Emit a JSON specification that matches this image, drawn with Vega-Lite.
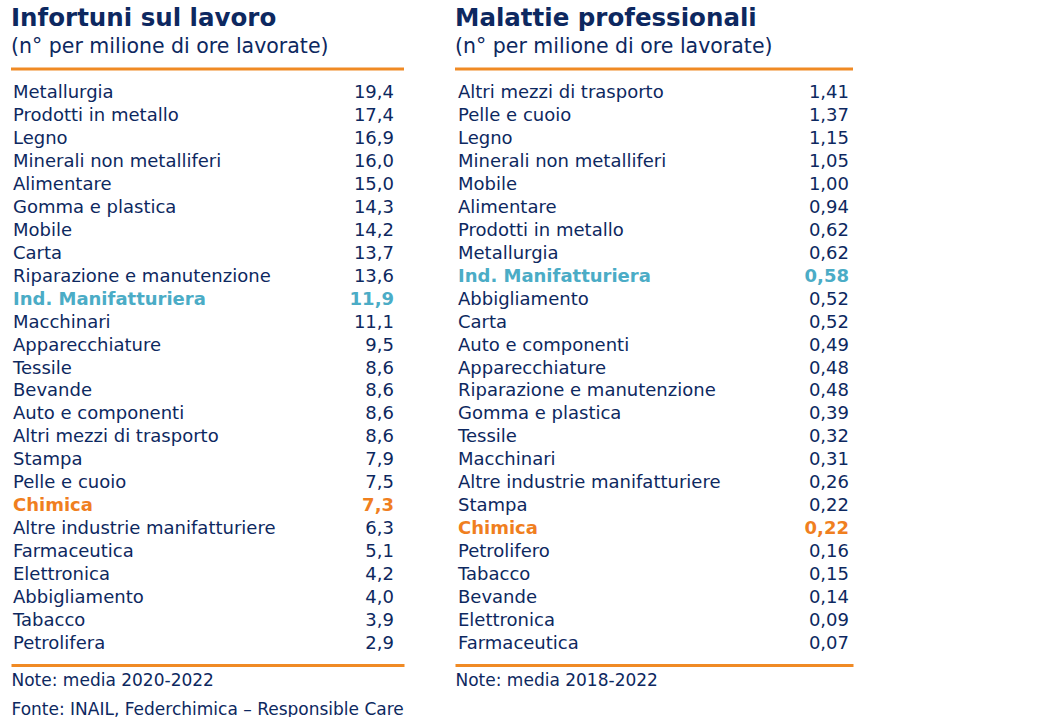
{
  "$schema": "https://vega.github.io/schema/vega-lite/v6.json",
  "background": "white",
  "padding": {"left": 9, "top": 5, "right": 0, "bottom": 0},
  "bounds": "flush",
  "spacing": 51,
  "config": {
    "font": "DejaVu Sans",
    "view": {"stroke": null},
    "locale": {"number": {"decimal": ",", "thousands": ".", "grouping": [3], "currency": ["", " €"]}},
    "title": {"anchor": "start", "frame": "group", "font": "DejaVu Sans", "fontSize": 24.5, "fontWeight": "bold", "color": "#0D2860", "subtitleFont": "DejaVu Sans", "subtitleFontSize": 20.5, "subtitleColor": "#0D2860", "subtitlePadding": 6, "offset": 9},
    "text": {"font": "DejaVu Sans", "fontSize": 18}
  },
  "datasets": {
    "infortuni": [
      {"rank": 1, "settore": "Metallurgia", "valore": 19.4, "tipo": "settore"},
      {"rank": 2, "settore": "Prodotti in metallo", "valore": 17.4, "tipo": "settore"},
      {"rank": 3, "settore": "Legno", "valore": 16.9, "tipo": "settore"},
      {"rank": 4, "settore": "Minerali non metalliferi", "valore": 16.0, "tipo": "settore"},
      {"rank": 5, "settore": "Alimentare", "valore": 15.0, "tipo": "settore"},
      {"rank": 6, "settore": "Gomma e plastica", "valore": 14.3, "tipo": "settore"},
      {"rank": 7, "settore": "Mobile", "valore": 14.2, "tipo": "settore"},
      {"rank": 8, "settore": "Carta", "valore": 13.7, "tipo": "settore"},
      {"rank": 9, "settore": "Riparazione e manutenzione", "valore": 13.6, "tipo": "settore"},
      {"rank": 10, "settore": "Ind. Manifatturiera", "valore": 11.9, "tipo": "totale"},
      {"rank": 11, "settore": "Macchinari", "valore": 11.1, "tipo": "settore"},
      {"rank": 12, "settore": "Apparecchiature", "valore": 9.5, "tipo": "settore"},
      {"rank": 13, "settore": "Tessile", "valore": 8.6, "tipo": "settore"},
      {"rank": 14, "settore": "Bevande", "valore": 8.6, "tipo": "settore"},
      {"rank": 15, "settore": "Auto e componenti", "valore": 8.6, "tipo": "settore"},
      {"rank": 16, "settore": "Altri mezzi di trasporto", "valore": 8.6, "tipo": "settore"},
      {"rank": 17, "settore": "Stampa", "valore": 7.9, "tipo": "settore"},
      {"rank": 18, "settore": "Pelle e cuoio", "valore": 7.5, "tipo": "settore"},
      {"rank": 19, "settore": "Chimica", "valore": 7.3, "tipo": "chimica"},
      {"rank": 20, "settore": "Altre industrie manifatturiere", "valore": 6.3, "tipo": "settore"},
      {"rank": 21, "settore": "Farmaceutica", "valore": 5.1, "tipo": "settore"},
      {"rank": 22, "settore": "Elettronica", "valore": 4.2, "tipo": "settore"},
      {"rank": 23, "settore": "Abbigliamento", "valore": 4.0, "tipo": "settore"},
      {"rank": 24, "settore": "Tabacco", "valore": 3.9, "tipo": "settore"},
      {"rank": 25, "settore": "Petrolifera", "valore": 2.9, "tipo": "settore"}
    ],
    "malattie": [
      {"rank": 1, "settore": "Altri mezzi di trasporto", "valore": 1.41, "tipo": "settore"},
      {"rank": 2, "settore": "Pelle e cuoio", "valore": 1.37, "tipo": "settore"},
      {"rank": 3, "settore": "Legno", "valore": 1.15, "tipo": "settore"},
      {"rank": 4, "settore": "Minerali non metalliferi", "valore": 1.05, "tipo": "settore"},
      {"rank": 5, "settore": "Mobile", "valore": 1.00, "tipo": "settore"},
      {"rank": 6, "settore": "Alimentare", "valore": 0.94, "tipo": "settore"},
      {"rank": 7, "settore": "Prodotti in metallo", "valore": 0.62, "tipo": "settore"},
      {"rank": 8, "settore": "Metallurgia", "valore": 0.62, "tipo": "settore"},
      {"rank": 9, "settore": "Ind. Manifatturiera", "valore": 0.58, "tipo": "totale"},
      {"rank": 10, "settore": "Abbigliamento", "valore": 0.52, "tipo": "settore"},
      {"rank": 11, "settore": "Carta", "valore": 0.52, "tipo": "settore"},
      {"rank": 12, "settore": "Auto e componenti", "valore": 0.49, "tipo": "settore"},
      {"rank": 13, "settore": "Apparecchiature", "valore": 0.48, "tipo": "settore"},
      {"rank": 14, "settore": "Riparazione e manutenzione", "valore": 0.48, "tipo": "settore"},
      {"rank": 15, "settore": "Gomma e plastica", "valore": 0.39, "tipo": "settore"},
      {"rank": 16, "settore": "Tessile", "valore": 0.32, "tipo": "settore"},
      {"rank": 17, "settore": "Macchinari", "valore": 0.31, "tipo": "settore"},
      {"rank": 18, "settore": "Altre industrie manifatturiere", "valore": 0.26, "tipo": "settore"},
      {"rank": 19, "settore": "Stampa", "valore": 0.22, "tipo": "settore"},
      {"rank": 20, "settore": "Chimica", "valore": 0.22, "tipo": "chimica"},
      {"rank": 21, "settore": "Petrolifero", "valore": 0.16, "tipo": "settore"},
      {"rank": 22, "settore": "Tabacco", "valore": 0.15, "tipo": "settore"},
      {"rank": 23, "settore": "Bevande", "valore": 0.14, "tipo": "settore"},
      {"rank": 24, "settore": "Elettronica", "valore": 0.09, "tipo": "settore"},
      {"rank": 25, "settore": "Farmaceutica", "valore": 0.07, "tipo": "settore"}
    ]
  },
  "hconcat": [
    {
      "title": {"text": "Infortuni sul lavoro", "subtitle": "(n° per milione di ore lavorate)"},
      "width": 393,
      "height": 596,
      "layer": [
        {
          "data": {"values": [{"linea": "top"}]},
          "mark": {"type": "rule", "color": "#F08A24", "strokeWidth": 3},
          "encoding": {
            "y": {"datum": 0, "type": "quantitative", "scale": {"domain": [0, 26], "reverse": true, "nice": false, "zero": false}, "axis": null}
          }
        },
        {
          "data": {"name": "infortuni"},
          "transform": [{"filter": "datum.tipo === 'settore'"}],
          "mark": {"type": "text", "align": "left", "baseline": "middle", "dx": 2, "dy": 1.5},
          "encoding": {
            "x": {"datum": 0, "type": "quantitative", "scale": {"domain": [0, 1], "nice": false},
              "axis": {"orient": "bottom", "domainColor": "#F08A24", "domainWidth": 3, "ticks": false, "labels": false, "grid": false,
                "title": ["Note: media 2020-2022", "Fonte: INAIL, Federchimica – Responsible Care"],
                "titleAnchor": "start", "titleAlign": "left", "titleBaseline": "top", "titlePadding": 7, "titleFont": "DejaVu Sans", "titleFontSize": 17, "titleFontWeight": "normal", "titleColor": "#0D2860", "titleLineHeight": 29}},
            "y": {"field": "rank", "type": "quantitative"},
            "text": {"field": "settore", "type": "nominal"},
            "color": {"field": "tipo", "type": "nominal", "scale": {"domain": ["settore", "totale", "chimica"], "range": ["#0D2860", "#4BACC6", "#F07F1F"]}, "legend": null}
          }
        },
        {
          "data": {"name": "infortuni"},
          "transform": [{"filter": "datum.tipo !== 'settore'"}],
          "mark": {"type": "text", "align": "left", "baseline": "middle", "dx": 2, "dy": 1.5, "fontWeight": "bold"},
          "encoding": {
            "x": {"datum": 0, "type": "quantitative"},
            "y": {"field": "rank", "type": "quantitative"},
            "text": {"field": "settore", "type": "nominal"},
            "color": {"field": "tipo", "type": "nominal", "legend": null}
          }
        },
        {
          "data": {"name": "infortuni"},
          "transform": [{"filter": "datum.tipo === 'settore'"}],
          "mark": {"type": "text", "align": "right", "baseline": "middle", "dx": -10, "dy": 1.5},
          "encoding": {
            "x": {"datum": 1, "type": "quantitative"},
            "y": {"field": "rank", "type": "quantitative"},
            "text": {"field": "valore", "type": "quantitative", "format": ".1f"},
            "color": {"field": "tipo", "type": "nominal", "legend": null}
          }
        },
        {
          "data": {"name": "infortuni"},
          "transform": [{"filter": "datum.tipo !== 'settore'"}],
          "mark": {"type": "text", "align": "right", "baseline": "middle", "dx": -10, "dy": 1.5, "fontWeight": "bold"},
          "encoding": {
            "x": {"datum": 1, "type": "quantitative"},
            "y": {"field": "rank", "type": "quantitative"},
            "text": {"field": "valore", "type": "quantitative", "format": ".1f"},
            "color": {"field": "tipo", "type": "nominal", "legend": null}
          }
        }
      ]
    },
    {
      "title": {"text": "Malattie professionali", "subtitle": "(n° per milione di ore lavorate)"},
      "width": 398,
      "height": 596,
      "layer": [
        {
          "data": {"values": [{"linea": "top"}]},
          "mark": {"type": "rule", "color": "#F08A24", "strokeWidth": 3},
          "encoding": {
            "y": {"datum": 0, "type": "quantitative", "scale": {"domain": [0, 26], "reverse": true, "nice": false, "zero": false}, "axis": null}
          }
        },
        {
          "data": {"name": "malattie"},
          "transform": [{"filter": "datum.tipo === 'settore'"}],
          "mark": {"type": "text", "align": "left", "baseline": "middle", "dx": 3, "dy": 1.5},
          "encoding": {
            "x": {"datum": 0, "type": "quantitative", "scale": {"domain": [0, 1], "nice": false},
              "axis": {"orient": "bottom", "domainColor": "#F08A24", "domainWidth": 3, "ticks": false, "labels": false, "grid": false,
                "title": "Note: media 2018-2022",
                "titleAnchor": "start", "titleAlign": "left", "titleBaseline": "top", "titlePadding": 7, "titleFont": "DejaVu Sans", "titleFontSize": 17, "titleFontWeight": "normal", "titleColor": "#0D2860", "titleLineHeight": 29}},
            "y": {"field": "rank", "type": "quantitative"},
            "text": {"field": "settore", "type": "nominal"},
            "color": {"field": "tipo", "type": "nominal", "scale": {"domain": ["settore", "totale", "chimica"], "range": ["#0D2860", "#4BACC6", "#F07F1F"]}, "legend": null}
          }
        },
        {
          "data": {"name": "malattie"},
          "transform": [{"filter": "datum.tipo !== 'settore'"}],
          "mark": {"type": "text", "align": "left", "baseline": "middle", "dx": 3, "dy": 1.5, "fontWeight": "bold"},
          "encoding": {
            "x": {"datum": 0, "type": "quantitative"},
            "y": {"field": "rank", "type": "quantitative"},
            "text": {"field": "settore", "type": "nominal"},
            "color": {"field": "tipo", "type": "nominal", "legend": null}
          }
        },
        {
          "data": {"name": "malattie"},
          "transform": [{"filter": "datum.tipo === 'settore'"}],
          "mark": {"type": "text", "align": "right", "baseline": "middle", "dx": -4, "dy": 1.5},
          "encoding": {
            "x": {"datum": 1, "type": "quantitative"},
            "y": {"field": "rank", "type": "quantitative"},
            "text": {"field": "valore", "type": "quantitative", "format": ".2f"},
            "color": {"field": "tipo", "type": "nominal", "legend": null}
          }
        },
        {
          "data": {"name": "malattie"},
          "transform": [{"filter": "datum.tipo !== 'settore'"}],
          "mark": {"type": "text", "align": "right", "baseline": "middle", "dx": -4, "dy": 1.5, "fontWeight": "bold"},
          "encoding": {
            "x": {"datum": 1, "type": "quantitative"},
            "y": {"field": "rank", "type": "quantitative"},
            "text": {"field": "valore", "type": "quantitative", "format": ".2f"},
            "color": {"field": "tipo", "type": "nominal", "legend": null}
          }
        }
      ]
    }
  ]
}
